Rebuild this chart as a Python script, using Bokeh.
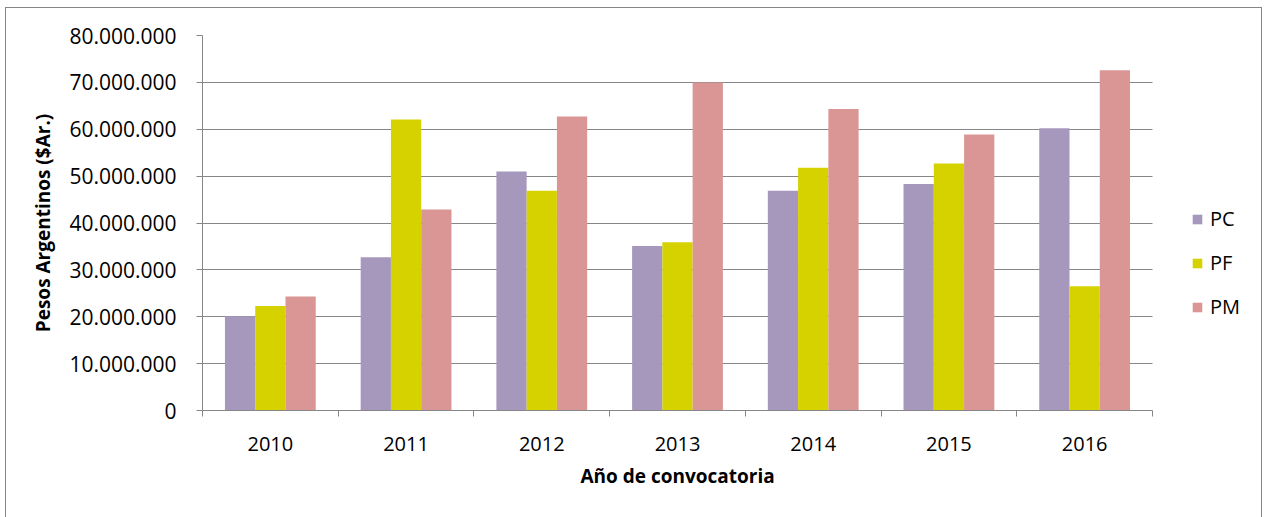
from bokeh.plotting import figure
from bokeh.models import ColumnDataSource, FixedTicker, Legend, LegendItem, Range1d, Title
from bokeh.embed import file_html
from bokeh.resources import INLINE

years = ["2010", "2011", "2012", "2013", "2014", "2015", "2016"]
series = ["PC", "PF", "PM"]
pc = [20100000, 32700000, 51000000, 35100000, 46900000, 48300000, 60200000]
pf = [22300000, 62100000, 46900000, 35900000, 51800000, 52700000, 26500000]
pm = [24300000, 42900000, 62700000, 70000000, 64300000, 58900000, 72600000]
colors = ["#A698BD", "#D6D200", "#DA9694"]
y_ticks = [0, 10000000, 20000000, 30000000, 40000000, 50000000, 60000000, 70000000, 80000000]
y_labels = ["0", "10.000.000", "20.000.000", "30.000.000", "40.000.000", "50.000.000",
            "60.000.000", "70.000.000", "80.000.000"]

FONT = "Open Sans"
GRID = "#868686"

n = len(years)
PLOT_W = 950      # pixel width of the category area
FRAME_W = 1059    # frame extends to the right to host the legend
x_end = n * FRAME_W / PLOT_W

p = figure(width=1255, height=512, output_backend="svg", toolbar_location=None,
           x_range=Range1d(0, x_end), y_range=Range1d(0, 80000000),
           frame_width=FRAME_W, frame_height=375,
           min_border_left=196, min_border_right=0, min_border_top=27, min_border_bottom=110)
p.styles = {"margin-left": "5px", "margin-top": "7px", "border": "1px solid #868686"}
p.outline_line_color = None
p.background_fill_color = "white"
p.border_fill_color = "white"

centers = [i + 0.5 for i in range(n)]
bw = 0.223
offsets = [-bw, 0.0, bw]
renderers = []
for vals, off, col in zip([pc, pf, pm], offsets, colors):
    src = ColumnDataSource(dict(x=[c + off for c in centers], top=vals))
    r = p.vbar(x="x", top="top", bottom=0, width=bw, source=src,
               fill_color=col, line_color=None)
    renderers.append(r)

# x axis: labels at centers, ticks at category boundaries
p.xaxis.bounds = (0, n)
p.xaxis.ticker = FixedTicker(ticks=centers, minor_ticks=list(range(n + 1)))
p.xaxis.major_label_overrides = {c: y for c, y in zip(centers, years)}
p.xaxis.major_tick_out = 0
p.xaxis.major_tick_in = 0
p.xaxis.minor_tick_out = 6
p.xaxis.minor_tick_in = 0
p.xaxis.minor_tick_line_color = GRID
p.xaxis.axis_line_color = GRID
p.xaxis.major_label_standoff = 20
p.xaxis.major_label_text_font = FONT
p.xaxis.major_label_text_font_size = "20px"
p.xaxis.major_label_text_color = "#000000"
p.xgrid.grid_line_color = None

# x axis title, centred under the category area (not the legend area)
xtitle = Title(text="Año de convocatoria", align="left", offset=378,
               text_font=FONT, text_font_style="bold", text_font_size="19px",
               text_color="#000000", standoff=15)
p.add_layout(xtitle, "below")

# y axis
p.yaxis.ticker = FixedTicker(ticks=y_ticks)
p.yaxis.major_label_overrides = {t: l for t, l in zip(y_ticks, y_labels)}
p.yaxis.major_tick_out = 6
p.yaxis.major_tick_in = 0
p.yaxis.minor_tick_line_color = None
p.yaxis.major_tick_line_color = GRID
p.yaxis.axis_line_color = GRID
p.yaxis.major_label_standoff = 20
p.yaxis.major_label_text_font = FONT
p.yaxis.major_label_text_font_size = "21px"
p.yaxis.major_label_text_color = "#000000"
p.yaxis.axis_label = "Pesos Argentinos ($Ar.)"
p.yaxis.axis_label_text_font = FONT
p.yaxis.axis_label_text_font_style = "bold"
p.yaxis.axis_label_text_font_size = "19px"
p.yaxis.axis_label_text_color = "#000000"
p.yaxis.axis_label_standoff = 10
p.ygrid.grid_line_color = GRID
p.ygrid.grid_line_width = 1
p.ygrid.cross_bounds = (0, n)

legend = Legend(items=[LegendItem(label=s, renderers=[r]) for s, r in zip(series, renderers)],
                location=(989, 90), orientation="vertical",
                glyph_width=12, glyph_height=12, label_height=26, spacing=17,
                label_standoff=7, padding=0, margin=0,
                label_text_font=FONT, label_text_font_size="20px",
                label_text_color="#000000",
                border_line_color=None, background_fill_alpha=0)
p.add_layout(legend, "center")

open("out.html", "w").write(file_html(p, INLINE))
